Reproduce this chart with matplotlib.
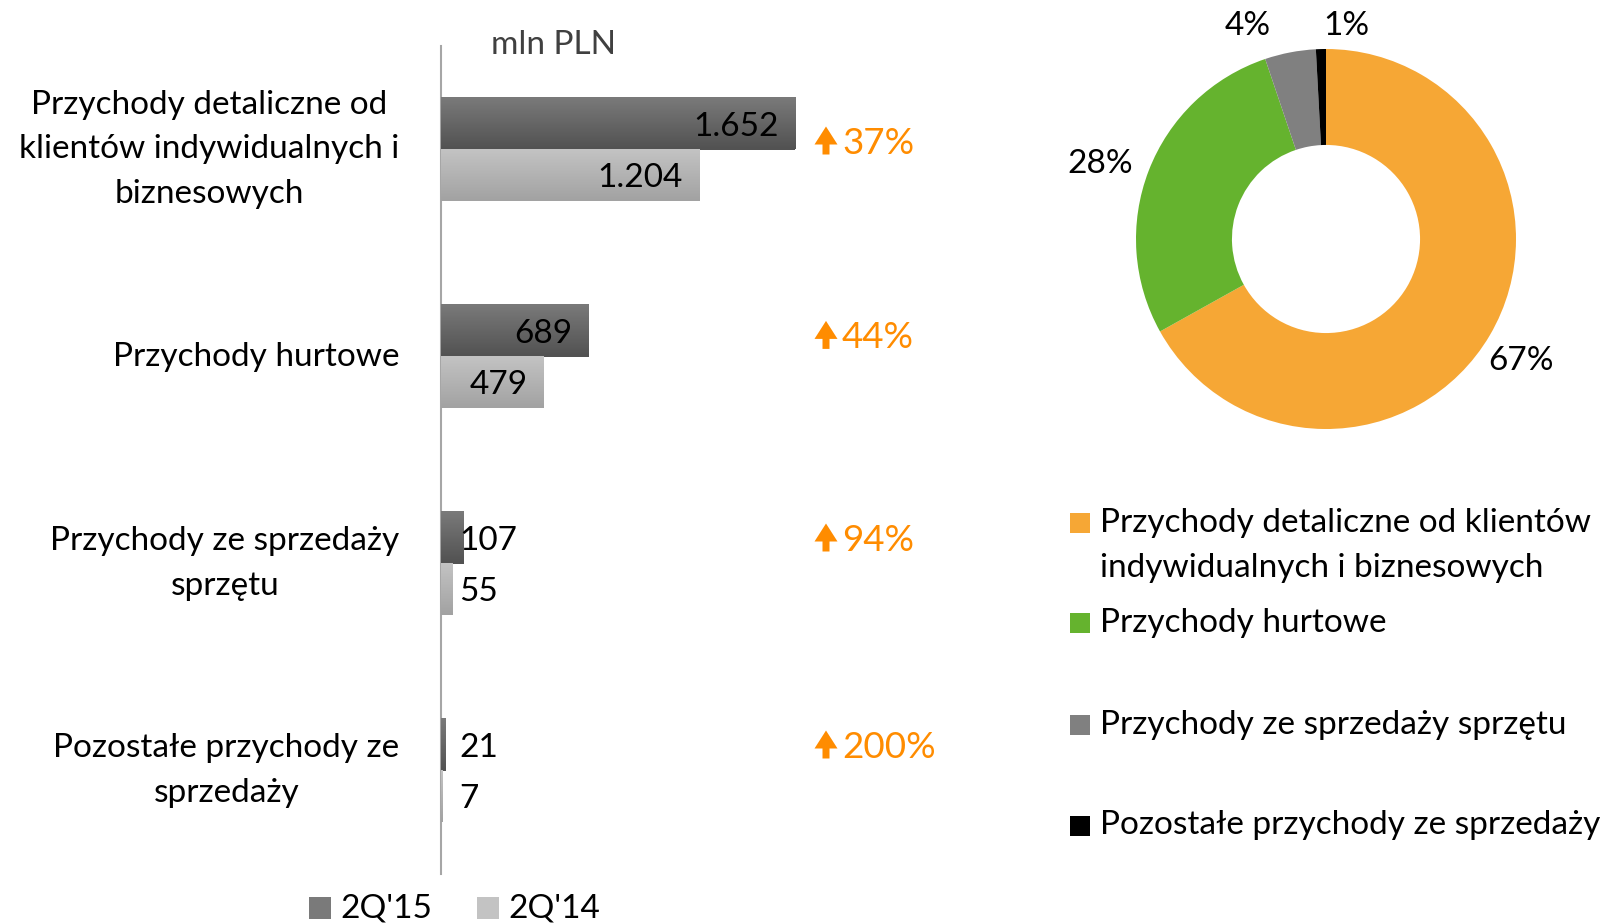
import numpy as np
import matplotlib
matplotlib.use("Agg")
import matplotlib.pyplot as plt
import matplotlib.patches as mpatches
from matplotlib.colors import LinearSegmentedColormap

plt.rcParams["font.family"] = ["Lato", "DejaVu Sans"]

# ---------------------------------------------------------------------------
# Data
# ---------------------------------------------------------------------------
categories = [
    "Przychody detaliczne od\nklientów indywidualnych i\nbiznesowych",
    "Przychody hurtowe",
    "Przychody ze sprzedaży\nsprzętu",
    "Pozostałe przychody ze\nsprzedaży",
]
legend_names = [
    "Przychody detaliczne od klientów\nindywidualnych i biznesowych",
    "Przychody hurtowe",
    "Przychody ze sprzedaży sprzętu",
    "Pozostałe przychody ze sprzedaży",
]
q15 = [1652, 689, 107, 21]
q14 = [1204, 479, 55, 7]
growth = [37, 44, 94, 200]
series_names = ["2Q'15", "2Q'14"]
unit = "mln PLN"

# ---------------------------------------------------------------------------
# Style
# ---------------------------------------------------------------------------
W, H = 1616, 923
FS = 24
LSP = 1.62
ORANGE = "#FF8C00"
DARK = ["#7a7a7a", "#525252"]
LIGHT = ["#c3c3c3", "#a2a2a2"]
PIE_COLORS = ["#F6A735", "#65B32E", "#808080", "#000000"]
DIGIT_SHIFT = 3          # px, digits sit high in a centred text box


def fx(x):
    return x / W


def fy(y):
    return 1 - y / H


fig = plt.figure(figsize=(W / 100, H / 100), dpi=100)

# ---------------------------------------------------------------------------
# Bar chart
# ---------------------------------------------------------------------------
AX_L, AX_T, AX_B, AX_W = 441, 46, 874, 600
XMAX = 2800
ux = XMAX / AX_W            # data units per pixel (x)
uy = 4 / (AX_B - AX_T)      # data units per pixel (y)

ax = fig.add_axes([fx(AX_L), fy(AX_B), AX_W / W, (AX_B - AX_T) / H])
y = np.arange(len(categories))
b15 = ax.barh(y - 0.125, q15, height=0.25, color=DARK[1], zorder=2)
b14 = ax.barh(y + 0.125, q14, height=0.25, color=LIGHT[1], zorder=2)

# vertical gradient fill on every bar
grad = np.linspace(0, 1, 64).reshape(-1, 1)
for bars, cols in ((b15, DARK), (b14, LIGHT)):
    cmap = LinearSegmentedColormap.from_list("g", cols)
    for r in bars:
        x0, y0, w, h = r.get_x(), r.get_y(), r.get_width(), r.get_height()
        ax.imshow(grad, extent=[x0, x0 + w, y0 + h, y0], aspect="auto",
                  cmap=cmap, zorder=3)

# value labels: inside end if it fits, else just right of the axis
for bars, vals in ((b15, q15), (b14, q14)):
    for r, v in zip(bars, vals):
        yc = r.get_y() + r.get_height() / 2 + DIGIT_SHIFT * uy
        txt = f"{v:,}".replace(",", ".")
        if v / ux > 70:
            ax.text(v - 16 * ux, yc, txt, ha="right", va="center",
                    fontsize=FS, zorder=4)
        else:
            ax.text(18 * ux, yc, txt, ha="left", va="center",
                    fontsize=FS, zorder=4)

# growth arrows
ARROW_X = (826 - AX_L) * ux
TEXT_X = (842 - AX_L) * ux
GROWTH_DY = [-9, -21.6, -26, -26]     # px offset from group centre
for i, (g, dy) in enumerate(zip(growth, GROWTH_DY)):
    yc = i + dy * uy
    ax.add_patch(mpatches.FancyArrow(
        ARROW_X, yc + 14 * uy, 0, -28 * uy, width=7 * ux,
        head_width=23 * ux, head_length=18 * uy,
        length_includes_head=True, color=ORANGE, lw=0, zorder=4))
    ax.text(TEXT_X, yc + DIGIT_SHIFT * uy, f"{g}%", color=ORANGE,
            ha="left", va="center", fontsize=26.5)

ax.set_xlim(0, XMAX)
ax.set_ylim(len(categories) - 0.5, -0.5)
ax.set_xticks([])
ax.set_yticks(y)
ax.set_yticklabels(categories, fontsize=FS, linespacing=LSP, va="center")
for lbl in ax.get_yticklabels():
    lbl.set_multialignment("center")
ax.tick_params(axis="y", length=0, pad=30)
for s in ("top", "right", "bottom"):
    ax.spines[s].set_visible(False)
ax.spines["left"].set_color("#a6a6a6")
ax.spines["left"].set_linewidth(1.5)
ax.patch.set_alpha(0)

ax.text((553 - AX_L) / AX_W, 1 + 1 / (AX_B - AX_T), unit, transform=ax.transAxes,
        ha="center", va="center", fontsize=FS, color="#404040")

# bottom legend
for (sx, tx), name, cols in zip(((309, 340), (477, 508)), series_names, (DARK, LIGHT)):
    fig.add_artist(mpatches.Rectangle((fx(sx), fy(919)), 22 / W, 22 / H,
                                      transform=fig.transFigure,
                                      color=cols[0], lw=0))
    fig.text(fx(tx), fy(908), name, ha="left", va="center", fontsize=FS)

# ---------------------------------------------------------------------------
# Donut
# ---------------------------------------------------------------------------
CX, CY, R, LIM = 1326, 239, 190, 1.3
S = 2 * LIM * R
pax = fig.add_axes([fx(CX - S / 2), fy(CY + S / 2), S / W, S / H])
wedges, _ = pax.pie(q15, colors=PIE_COLORS, startangle=90, counterclock=False,
                    radius=1, wedgeprops=dict(width=0.505, linewidth=0))
pax.set_xlim(-LIM, LIM)
pax.set_ylim(-LIM, LIM)

total = sum(q15)
LABEL_R = [1.2, 1.26, 1.21, 1.14]
LABEL_NUDGE = [-1, 2, 9, -7]
for wdg, v, lr, dn in zip(wedges, q15, LABEL_R, LABEL_NUDGE):
    th = np.deg2rad((wdg.theta1 + wdg.theta2) / 2 + dn)
    pax.text(lr * np.cos(th), lr * np.sin(th) - DIGIT_SHIFT / R,
             f"{round(v / total * 100)}%",
             ha="center", va="center", fontsize=FS)

# donut legend (square aligned with the first text line)
LEG_Y = [523, 622.5, 724.5, 825.5]
LINE_PX = 45
for ly, name, col in zip(LEG_Y, legend_names, PIE_COLORS):
    fig.add_artist(mpatches.Rectangle((fx(1070), fy(ly + 10)), 20 / W, 20 / H,
                                      transform=fig.transFigure, color=col, lw=0))
    n = name.count("\n")
    fig.text(fx(1100), fy(ly + n * LINE_PX / 2), name, ha="left", va="center",
             fontsize=FS, linespacing=LSP)

fig.savefig("out.png", dpi=100)
